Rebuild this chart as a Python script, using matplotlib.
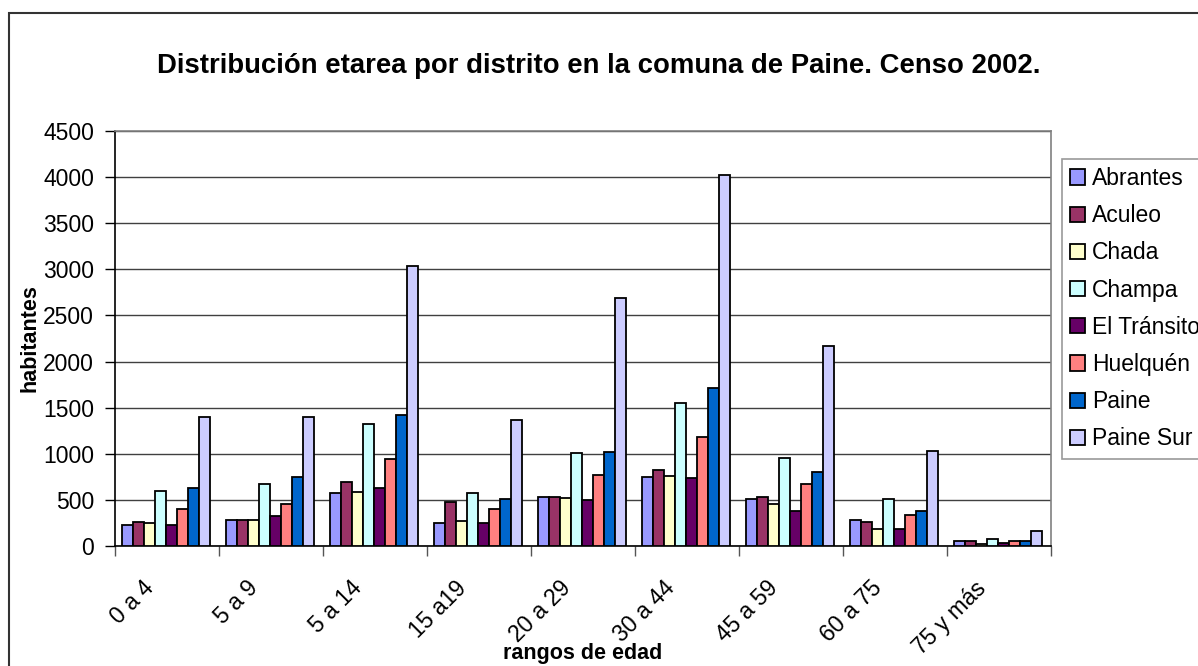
import numpy as np
import matplotlib
matplotlib.use("Agg")
import matplotlib.pyplot as plt
from matplotlib.patches import Rectangle
from matplotlib.transforms import ScaledTranslation

plt.rcParams['font.family'] = ['Liberation Sans', 'DejaVu Sans']

# data
categories = ['0 a 4', '5 a 9', '5 a 14', '15 a19', '20 a 29', '30 a 44', '45 a 59', '60 a 75', '75 y más']
abrantes = [225, 280, 575, 250, 535, 745, 515, 282, 50]
aculeo = [262, 280, 690, 478, 535, 822, 532, 260, 50]
chada = [245, 280, 590, 270, 517, 763, 453, 184, 25]
champa = [595, 670, 1323, 572, 1004, 1552, 955, 514, 76]
el_transito = [225, 322, 630, 252, 500, 742, 380, 184, 33]
huelquen = [398, 452, 941, 400, 772, 1182, 669, 340, 50]
paine = [630, 745, 1421, 515, 1022, 1718, 807, 380, 50]
paine_sur = [1400, 1400, 3040, 1365, 2690, 4020, 2170, 1035, 167]

series = [abrantes, aculeo, chada, champa, el_transito, huelquen, paine, paine_sur]
names = ['Abrantes', 'Aculeo', 'Chada', 'Champa', 'El Tránsito', 'Huelquén', 'Paine', 'Paine Sur']
colors = ['#9999FF', '#993366', '#FFFFCC', '#CCFFFF', '#660066', '#FF8080', '#0066CC', '#CCCCFF']

fig = plt.figure(figsize=(11.98, 6.66), dpi=100)
ax = fig.add_axes([115/1198, 1 - 546/666, (1051 - 115)/1198, (546 - 131)/666])

x = np.arange(len(categories))
width = 0.106
for i, (vals, name, col) in enumerate(zip(series, names, colors)):
    ax.bar(x + (i - 3.5) * width - 0.01, vals, width, color=col, edgecolor='black',
           linewidth=1.3, label=name, zorder=3)

ax.set_xlim(-0.5, len(categories) - 0.5)
ax.set_ylim(0, 4500)
ax.set_yticks(np.arange(0, 4501, 500))
ax.yaxis.grid(True, color='#404040', linewidth=1.0, zorder=0)

# x ticks at group boundaries, labels at group centres
ax.set_xticks(np.arange(-0.5, len(categories), 1.0))
ax.set_xticklabels([])
ax.set_xticks(x, minor=True)
ax.set_xticklabels(categories, minor=True, rotation=45, ha='right', va='top', fontsize=16.5)
ax.tick_params(axis='x', which='minor', length=0, pad=22)
ax.tick_params(axis='x', which='major', length=7, color='#555555', width=1)
ax.tick_params(axis='y', length=7, width=1, pad=8, labelsize=16.5)
shift = ScaledTranslation(-0.08, 0, fig.dpi_scale_trans)
for lab in ax.get_xticklabels(minor=True):
    lab.set_transform(lab.get_transform() + shift)

ax.spines['top'].set_color('#808080')
ax.spines['right'].set_color('#808080')
for s in ax.spines.values():
    s.set_linewidth(1.2)

fig.text(0.5, 1 - 66/666, 'Distribución etarea por distrito en la comuna de Paine. Censo 2002.',
         ha='center', va='center', fontsize=19.8, fontweight='bold')
fig.text(583/1198, 1 - 653/666, 'rangos de edad', ha='center', va='center',
         fontsize=15.5, fontweight='bold')
fig.text(30/1198, 1 - 338/666, 'habitantes', ha='center', va='center',
         rotation=90, fontsize=15.5, fontweight='bold')

leg = ax.legend(loc='upper left', bbox_to_anchor=(1062/1198, 1 - 159/666),
                bbox_transform=fig.transFigure, fontsize=16.5, frameon=True,
                fancybox=False, edgecolor='#808080', handlelength=0.65,
                handleheight=0.65, handletextpad=0.3, labelspacing=0.62,
                borderaxespad=0, borderpad=0.35)
leg.get_frame().set_linewidth(1.2)
leg.set_zorder(5)

fig.add_artist(Rectangle((9/1198, -0.5), 2, 0.5 + 1 - 13/666, transform=fig.transFigure,
                         fill=False, edgecolor='#333333', linewidth=1.5))

fig.savefig('out.png', dpi=100)
